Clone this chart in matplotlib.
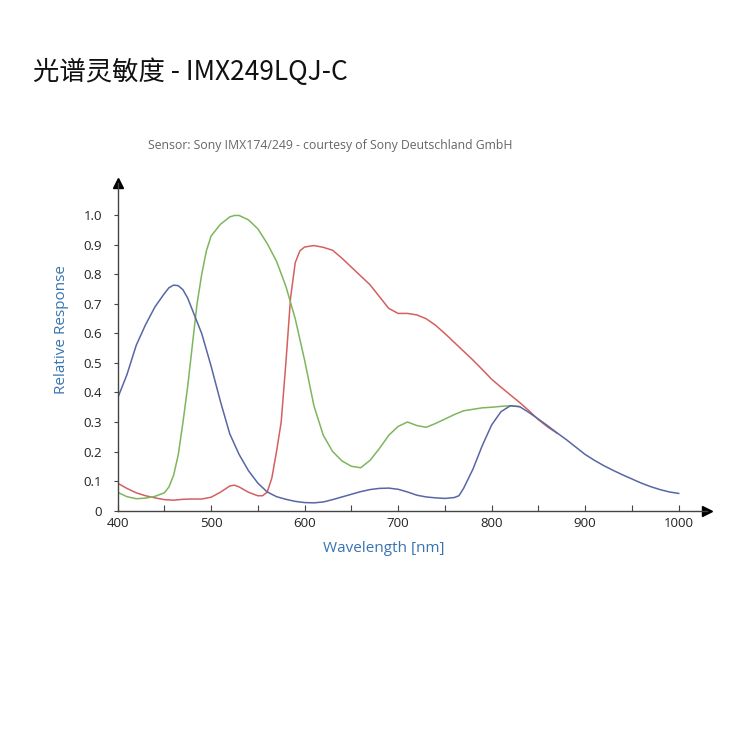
import matplotlib
matplotlib.use("Agg")
import matplotlib.pyplot as plt

plt.rcParams['font.family'] = ['Open Sans', 'DejaVu Sans']

title = "光谱灵敏度 - IMX249LQJ-C"
subtitle = "Sensor: Sony IMX174/249 - courtesy of Sony Deutschland GmbH"
xlabel = "Wavelength [nm]"
ylabel = "Relative Response"
xticks = [400, 500, 600, 700, 800, 900, 1000]
xminor = [450, 550, 650, 750, 850, 950]
yticks = [0, 0.1, 0.2, 0.3, 0.4, 0.5, 0.6, 0.7, 0.8, 0.9, 1.0]
ytick_labels = ["0", "0.1", "0.2", "0.3", "0.4", "0.5", "0.6", "0.7", "0.8", "0.9", "1.0"]

blue_wl = [400, 410, 420, 430, 440, 450, 455, 460, 465, 470, 475, 480, 490, 500, 510,
           520, 530, 540, 550, 560, 570, 580, 590, 600, 610, 620, 630, 640, 650, 660,
           670, 680, 690, 700, 710, 720, 730, 740, 750, 760, 765, 770, 780, 790, 800,
           810, 820, 830, 840, 850, 860, 870, 880, 890, 900, 910, 920, 930, 940, 950,
           960, 970, 980, 990, 1000]
blue_val = [0.38, 0.46, 0.56, 0.63, 0.69, 0.735, 0.755, 0.764, 0.762, 0.748, 0.72, 0.68,
            0.6, 0.49, 0.37, 0.26, 0.19, 0.135, 0.093, 0.063, 0.047, 0.038, 0.031,
            0.027, 0.026, 0.029, 0.037, 0.046, 0.055, 0.064, 0.071, 0.075, 0.076,
            0.072, 0.063, 0.052, 0.046, 0.043, 0.041, 0.044, 0.05, 0.075, 0.14, 0.22,
            0.29, 0.335, 0.355, 0.352, 0.332, 0.31, 0.287, 0.263, 0.24, 0.215, 0.19,
            0.17, 0.152, 0.136, 0.121, 0.107, 0.093, 0.081, 0.071, 0.063, 0.058]

red_wl = [400, 410, 420, 430, 440, 450, 460, 470, 480, 490, 500, 510, 520, 525, 530,
          540, 550, 555, 560, 565, 570, 575, 580, 585, 590, 595, 600, 610, 620, 630,
          640, 650, 660, 670, 680, 690, 700, 710, 720, 730, 740, 750, 760, 770, 780,
          790, 800, 810, 820, 830, 840, 850, 860, 870]
red_val = [0.093, 0.075, 0.06, 0.05, 0.043, 0.037, 0.035, 0.038, 0.039, 0.039, 0.045,
           0.062, 0.083, 0.086, 0.08, 0.062, 0.05, 0.05, 0.062, 0.11, 0.2, 0.3, 0.5,
           0.72, 0.84, 0.88, 0.893, 0.898, 0.892, 0.882, 0.855, 0.825, 0.795, 0.765,
           0.725, 0.685, 0.668, 0.668, 0.663, 0.65, 0.628, 0.6, 0.57, 0.54, 0.51, 0.478,
           0.445, 0.418, 0.392, 0.366, 0.338, 0.308, 0.283, 0.262]

green_wl = [400, 410, 420, 430, 440, 450, 455, 460, 465, 470, 475, 480, 485, 490, 495,
            500, 510, 520, 525, 530, 540, 550, 560, 570, 580, 590, 600, 610, 620, 630,
            640, 650, 660, 670, 680, 690, 700, 710, 720, 730, 740, 750, 760, 770, 780,
            790, 800, 810, 820, 830]
green_val = [0.062, 0.047, 0.04, 0.042, 0.048, 0.06, 0.08, 0.12, 0.19, 0.3, 0.42, 0.56,
             0.7, 0.8, 0.88, 0.93, 0.97, 0.995, 1.0, 1.0, 0.985, 0.955, 0.905, 0.845,
             0.76, 0.65, 0.51, 0.355, 0.255, 0.2, 0.168, 0.15, 0.145, 0.17, 0.21, 0.255,
             0.285, 0.3, 0.288, 0.282, 0.295, 0.31, 0.325, 0.338, 0.343, 0.348, 0.35,
             0.353, 0.355, 0.352]

fig = plt.figure(figsize=(7.5, 7.5), dpi=100)
ax = fig.add_axes([0.1567, 0.3193, 0.7856, 0.4367])

c_red = "#d4605f"
c_green = "#7db65c"
c_blue = "#5866a6"
ax.plot(red_wl, red_val, color=c_red, lw=1.1)
ax.plot(green_wl, green_val, color=c_green, lw=1.1)
ax.plot(blue_wl, blue_val, color=c_blue, lw=1.1)

ax.set_xlim(400, 1030)
ax.set_ylim(0, 1.11)
for s in ["top", "right"]:
    ax.spines[s].set_visible(False)
for s in ["left", "bottom"]:
    ax.spines[s].set_color("#444444")
    ax.spines[s].set_linewidth(1.0)

ax.set_xticks(xticks)
ax.set_xticks(xminor, minor=True)
ax.set_yticks(yticks)
ax.set_yticklabels(ytick_labels)
ax.tick_params(axis="x", which="both", direction="in", length=4, width=0.8,
               color="#444444", labelsize=9.5, labelcolor="#222222", pad=5)
ax.tick_params(axis="y", direction="out", length=3, width=0.8,
               color="#444444", labelsize=9.5, labelcolor="#222222", pad=8)

ax.plot(1, 0, ">", color="black", markersize=7, transform=ax.transAxes, clip_on=False)
ax.plot(0, 1, "^", color="black", markersize=7, transform=ax.transAxes, clip_on=False)

lab_color = "#3874b0"
ax.set_xlabel(xlabel, color=lab_color, fontsize=11)
ax.xaxis.set_label_coords((384 - 117.5) / 589.2, -0.094)
ax.set_ylabel(ylabel, color=lab_color, fontsize=11)
ax.yaxis.set_label_coords(-0.082, (510.5 - 329) / 327.5)

fig.text(33 / 750, 1 - 72 / 750, title, fontsize=19, color="#111111",
         family=["Noto Sans CJK SC", "DejaVu Sans"], va="center", ha="left")
fig.text(330 / 750, 1 - 146 / 750, subtitle, fontsize=8.8, color="#666666",
         va="center", ha="center")

fig.savefig("out.png", dpi=100, facecolor="white")
